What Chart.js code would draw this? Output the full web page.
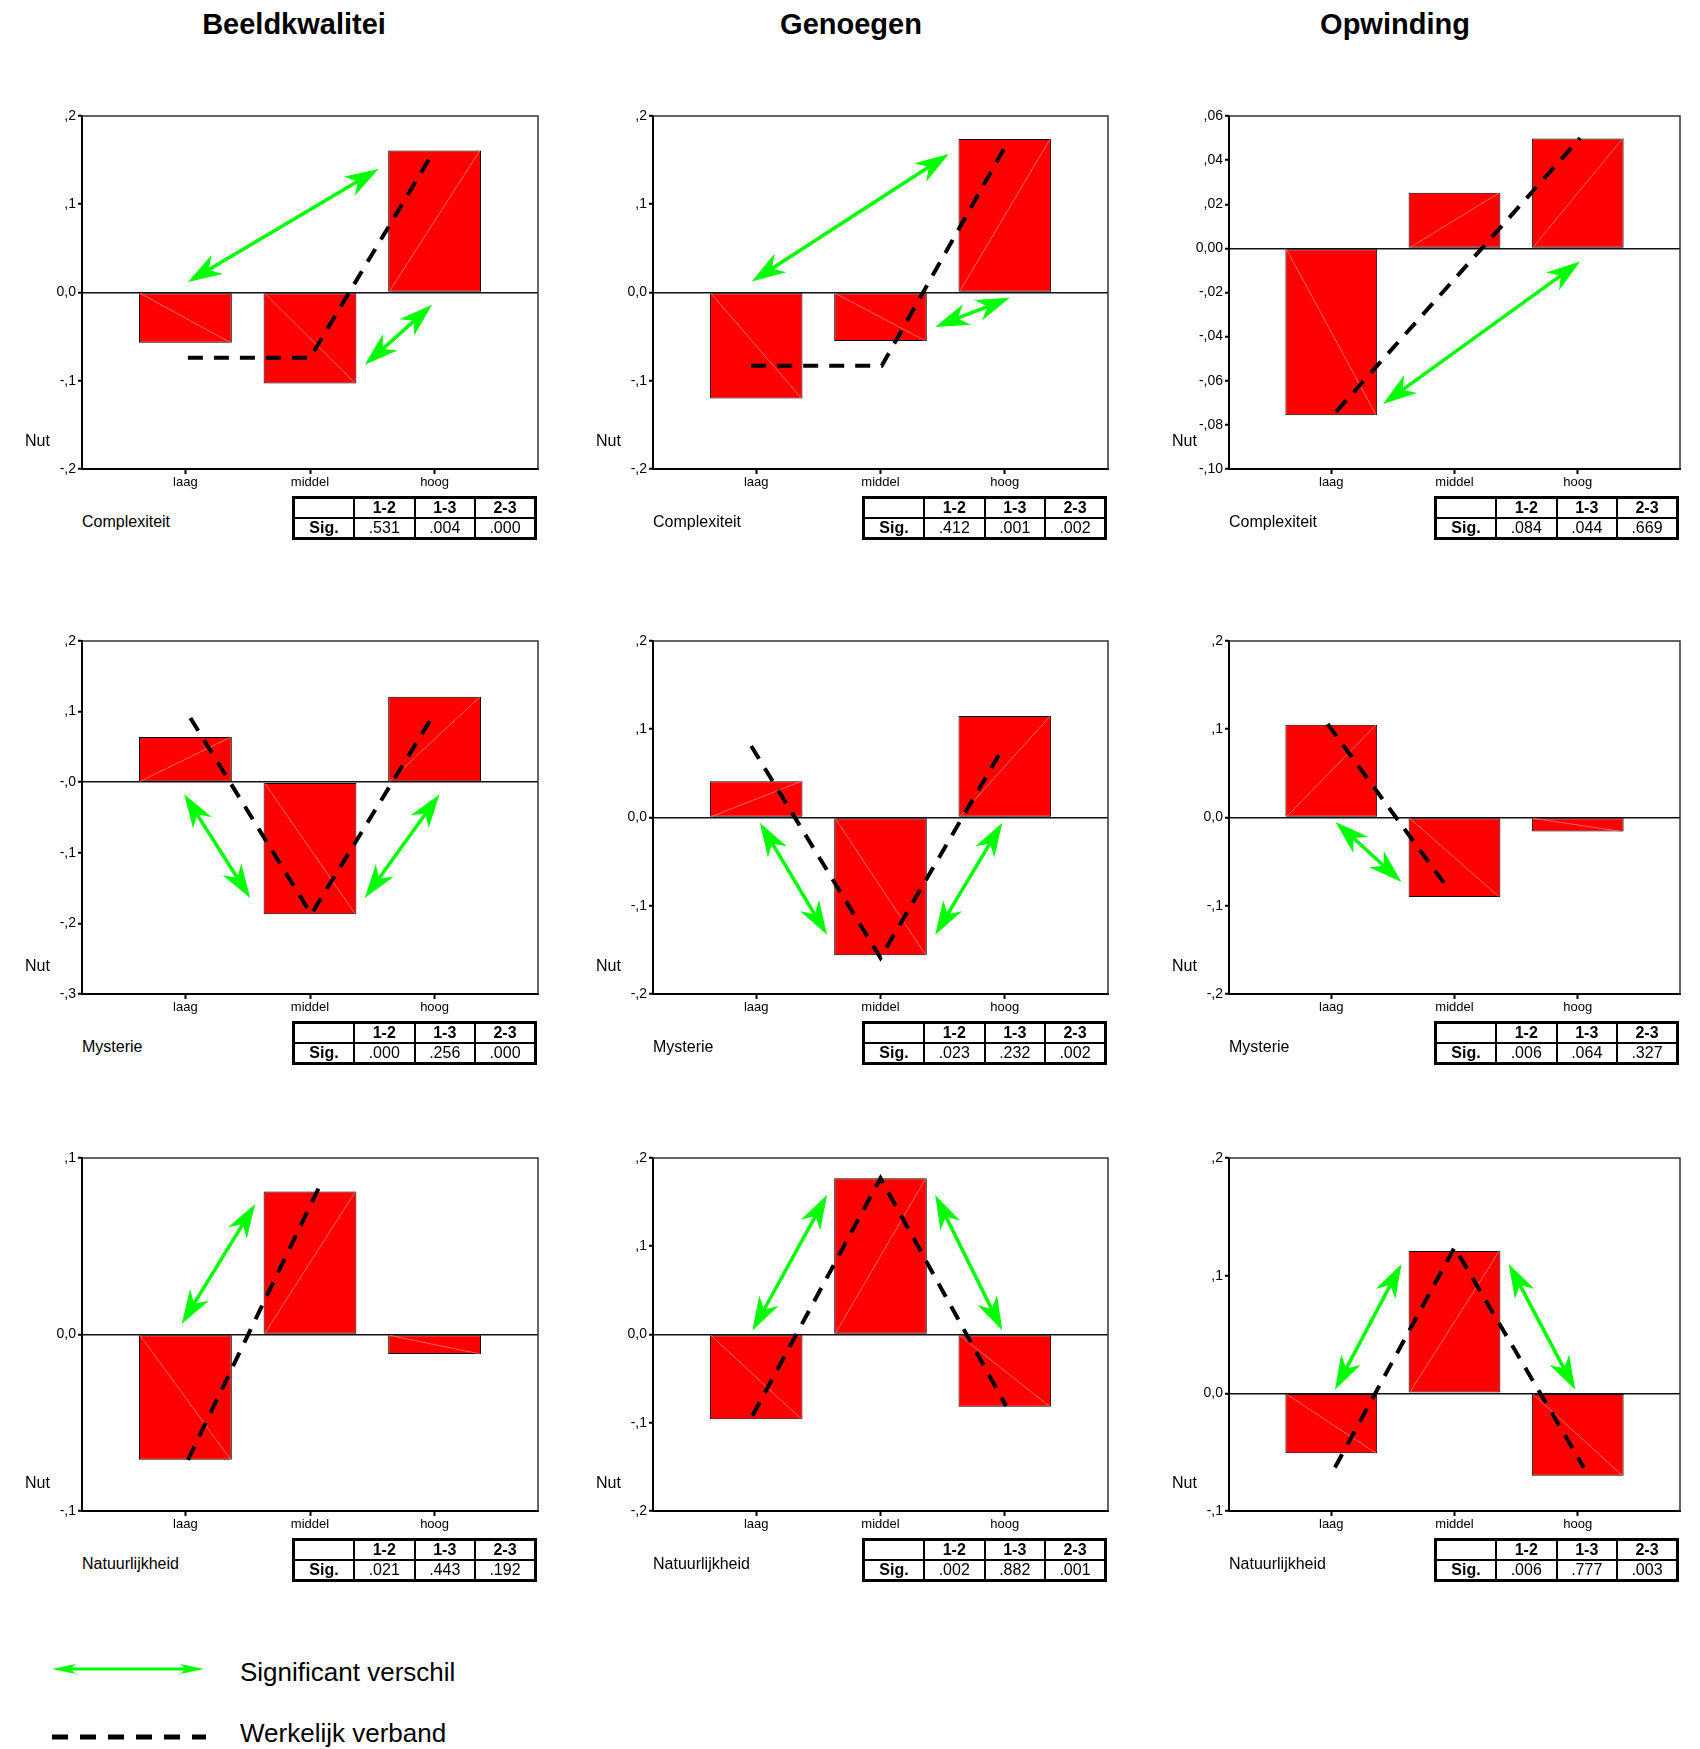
<!DOCTYPE html>
<html>
<head>
<meta charset="utf-8">
<script src="https://cdn.jsdelivr.net/npm/chart.js@4.4.0/dist/chart.umd.min.js"></script>
<style>
    body { margin: 0; width: 1700px; height: 1749px; background: #fff; position: relative; overflow: hidden;
           font-family: "Liberation Sans", Arial, sans-serif; color: #000; }
    .title { position: absolute; top: 8px; font-size: 29px; font-weight: bold; transform: translateX(-50%); white-space: nowrap; }
    canvas { position: absolute; }
    .factor { position: absolute; font-size: 16px; transform: translateY(-50%); white-space: nowrap; }
    table.sig { position: absolute; border-collapse: collapse; border: 3px solid #000; table-layout: fixed;
                width: 245px; font-size: 16px; }
    table.sig td { border: 2px solid #000; height: 18px; padding: 0; text-align: center; line-height: 18px; }
    table.sig td.b { font-weight: bold; }
    .legend-text { position: absolute; font-size: 26px; transform: translateY(-50%); white-space: nowrap; }
</style>
</head>
<body>
<script>
    "use strict";

    // ---- data ----
    const categories = ['laag', 'middel', 'hoog'];
    const columnTitles = ['Beeldkwalitei', 'Genoegen', 'Opwinding'];
    const rowFactors = ['Complexiteit', 'Mysterie', 'Natuurlijkheid'];
    const sigPairs = ['1-2', '1-3', '2-3'];

    // bar values (Nut) per panel
    const bkComplex = [-0.057, -0.103, 0.161];
    const geComplex = [-0.120, -0.055, 0.174];
    const opComplex = [-0.0756, 0.0252, 0.0498];
    const bkMyst = [0.064, -0.187, 0.121];
    const geMyst = [0.041, -0.156, 0.115];
    const opMyst = [0.105, -0.090, -0.016];
    const bkNat = [-0.071, 0.081, -0.011];
    const geNat = [-0.096, 0.177, -0.082];
    const opNat = [-0.051, 0.121, -0.070];

    // "werkelijk verband" dashed lines (x in category units)
    const bkComplexLineX = [0.02, 1.0, 1.96], bkComplexLineY = [-0.074, -0.074, 0.152];
    const geComplexLineX = [-0.04, 1.01, 2.03], geComplexLineY = [-0.083, -0.083, 0.172];
    const opComplexLineX = [0.04, 2.02], opComplexLineY = [-0.074, 0.050];
    const bkMystLineX = [0.04, 1.01, 1.98], bkMystLineY = [0.091, -0.187, 0.092];
    const geMystLineX = [-0.04, 1.0, 1.99], geMystLineY = [0.081, -0.159, 0.080];
    const opMystLineX = [-0.03, 0.94], opMystLineY = [0.106, -0.079];
    const bkNatLineX = [0.02, 1.07], bkNatLineY = [-0.071, 0.083];
    const geNatLineX = [-0.03, 1.0, 2.01], geNatLineY = [-0.092, 0.177, -0.081];
    const opNatLineX = [0.03, 1.0, 2.05], opNatLineY = [-0.063, 0.124, -0.063];

    // "significant verschil" arrows: [x1, y1, x2, y2]
    const bkComplexArrows = [[0.02, 0.012, 1.55, 0.140], [1.44, -0.082, 1.98, -0.014]];
    const geComplexArrows = [[-0.035, 0.0125, 1.55, 0.157], [1.44, -0.039, 2.04, -0.006]];
    const opComplexArrows = [[0.42, -0.0705, 2.02, -0.006]];
    const bkMystArrows = [[-0.01, -0.017, 0.52, -0.164], [1.44, -0.164, 2.04, -0.017]];
    const geMystArrows = [[0.03, -0.006, 0.57, -0.133], [1.44, -0.133, 1.98, -0.006]];
    const opMystArrows = [[0.035, -0.005, 0.57, -0.073]];
    const bkNatArrows = [[-0.03, 0.006, 0.56, 0.074]];
    const geNatArrows = [[-0.03, 0.0045, 0.57, 0.158], [1.44, 0.158, 1.98, 0.0045]];
    const opNatArrows = [[0.03, 0.003, 0.57, 0.110], [1.44, 0.110, 1.98, 0.003]];

    // Sig. values
    const bkComplexSig = ['.531', '.004', '.000'];
    const geComplexSig = ['.412', '.001', '.002'];
    const opComplexSig = ['.084', '.044', '.669'];
    const bkMystSig = ['.000', '.256', '.000'];
    const geMystSig = ['.023', '.232', '.002'];
    const opMystSig = ['.006', '.064', '.327'];
    const bkNatSig = ['.021', '.443', '.192'];
    const geNatSig = ['.002', '.882', '.001'];
    const opNatSig = ['.006', '.777', '.003'];

    // y tick values and labels
    const ticks2 = [-0.2, -0.1, 0, 0.1, 0.2];
    const labels2 = ['-,2', '-,1', '0,0', ',1', ',2'];
    const ticksOpComplex = [-0.10, -0.08, -0.06, -0.04, -0.02, 0, 0.02, 0.04, 0.06];
    const labelsOpComplex = ['-,10', '-,08', '-,06', '-,04', '-,02', '0,00', ',02', ',04', ',06'];
    const ticksBkMyst = [-0.3, -0.2, -0.1, 0, 0.1, 0.2];
    const labelsBkMyst = ['-,3', '-,2', '-,1', '-,0', ',1', ',2'];
    const ticksBkNat = [-0.1, 0, 0.1];
    const labelsBkNat = ['-,1', '0,0', ',1'];
    const ticksOpNat = [-0.1, 0, 0.1, 0.2];
    const labelsOpNat = ['-,1', '0,0', ',1', ',2'];

    // ---- layout ----
    const colLeft = [82, 653, 1229];
    const colWidth = [456, 455, 451];
    const rowTop = [116, 641, 1158];
    const plotHeight = 353;
    const titleCenter = [294, 851, 1395];
    const fontFamily = '"Liberation Sans", Arial, sans-serif';

    Chart.defaults.font.family = fontFamily;
    Chart.defaults.color = '#000';

    const panels = [
        [
            {values: bkComplex, lx: bkComplexLineX, ly: bkComplexLineY, arrows: bkComplexArrows, sig: bkComplexSig, ticks: ticks2, labels: labels2},
            {values: geComplex, lx: geComplexLineX, ly: geComplexLineY, arrows: geComplexArrows, sig: geComplexSig, ticks: ticks2, labels: labels2},
            {values: opComplex, lx: opComplexLineX, ly: opComplexLineY, arrows: opComplexArrows, sig: opComplexSig, ticks: ticksOpComplex, labels: labelsOpComplex}
        ],
        [
            {values: bkMyst, lx: bkMystLineX, ly: bkMystLineY, arrows: bkMystArrows, sig: bkMystSig, ticks: ticksBkMyst, labels: labelsBkMyst},
            {values: geMyst, lx: geMystLineX, ly: geMystLineY, arrows: geMystArrows, sig: geMystSig, ticks: ticks2, labels: labels2},
            {values: opMyst, lx: opMystLineX, ly: opMystLineY, arrows: opMystArrows, sig: opMystSig, ticks: ticks2, labels: labels2}
        ],
        [
            {values: bkNat, lx: bkNatLineX, ly: bkNatLineY, arrows: bkNatArrows, sig: bkNatSig, ticks: ticksBkNat, labels: labelsBkNat},
            {values: geNat, lx: geNatLineX, ly: geNatLineY, arrows: geNatArrows, sig: geNatSig, ticks: ticks2, labels: labels2},
            {values: opNat, lx: opNatLineX, ly: opNatLineY, arrows: opNatArrows, sig: opNatSig, ticks: ticksOpNat, labels: labelsOpNat}
        ]
    ];

    function drawArrowHead(ctx, tx, ty, fx, fy, L, W, N) {
        let dx = tx - fx, dy = ty - fy;
        let len = Math.hypot(dx, dy);
        let ux = dx / len, uy = dy / len;
        let nx = -uy, ny = ux;
        ctx.beginPath();
        ctx.moveTo(tx, ty);
        ctx.lineTo(tx - L * ux + W * nx, ty - L * uy + W * ny);
        ctx.lineTo(tx - N * ux, ty - N * uy);
        ctx.lineTo(tx - L * ux - W * nx, ty - L * uy - W * ny);
        ctx.closePath();
        ctx.fill();
    }

    function drawDoubleArrow(ctx, x1, y1, x2, y2, L, W, N, lw) {
        let len = Math.hypot(x2 - x1, y2 - y1);
        let ux = (x2 - x1) / len, uy = (y2 - y1) / len;
        ctx.save();
        ctx.strokeStyle = '#00ff00';
        ctx.fillStyle = '#00ff00';
        ctx.lineWidth = lw;
        ctx.beginPath();
        ctx.moveTo(x1 + ux * N, y1 + uy * N);
        ctx.lineTo(x2 - ux * N, y2 - uy * N);
        ctx.stroke();
        drawArrowHead(ctx, x2, y2, x1, y1, L, W, N);
        drawArrowHead(ctx, x1, y1, x2, y2, L, W, N);
        ctx.restore();
    }

    function addText(cls, text, left, top) {
        let el = document.createElement('div');
        el.className = cls;
        el.textContent = text;
        el.style.left = left + 'px';
        el.style.top = top + 'px';
        document.body.appendChild(el);
        return el;
    }

    function addSigTable(sig, right, top) {
        let table = document.createElement('table');
        table.className = 'sig';
        table.style.left = (right - 245) + 'px';
        table.style.top = top + 'px';
        let head = '<tr><td></td>' + sigPairs.map(p => '<td class="b">' + p + '</td>').join('') + '</tr>';
        let body = '<tr><td class="b">Sig.</td>' + sig.map(s => '<td>' + s + '</td>').join('') + '</tr>';
        table.innerHTML = head + body;
        document.body.appendChild(table);
    }

    function makePanel(r, c) {
        let p = panels[r][c];
        let left = colLeft[c], top = rowTop[r], w = colWidth[c];

        let canvas = document.createElement('canvas');
        canvas.width = w + 80;
        canvas.height = plotHeight + 12 + 30;
        canvas.style.left = (left - 70) + 'px';
        canvas.style.top = (top - 12) + 'px';
        document.body.appendChild(canvas);

        const panelPlugin = {
            id: 'panelExtras',
            afterDatasetDraw: function (chart, args) {
                if (args.index !== 0) return;
                // faint diagonal inside each bar
                let ctx = chart.ctx;
                ctx.save();
                ctx.strokeStyle = '#ff7a7a';
                ctx.lineWidth = 0.8;
                args.meta.data.forEach(function (bar) {
                    let half = bar.width / 2 - 1;
                    ctx.beginPath();
                    ctx.moveTo(bar.x - half, bar.base);
                    ctx.lineTo(bar.x + half, bar.y);
                    ctx.stroke();
                });
                ctx.restore();
            },
            afterDatasetsDraw: function (chart) {
                let xs = chart.scales.x, ys = chart.scales.y;
                p.arrows.forEach(function (a) {
                    drawDoubleArrow(chart.ctx,
                        xs.getPixelForValue(a[0]), ys.getPixelForValue(a[1]),
                        xs.getPixelForValue(a[2]), ys.getPixelForValue(a[3]),
                        34, 11, 24, 3.5);
                });
            },
            afterDraw: function (chart) {
                let ctx = chart.ctx, area = chart.chartArea;
                ctx.save();
                ctx.strokeStyle = '#333';
                ctx.lineWidth = 1.5;
                ctx.beginPath();
                ctx.moveTo(area.left, area.top);
                ctx.lineTo(area.right, area.top);
                ctx.lineTo(area.right, area.bottom);
                ctx.stroke();
                ctx.fillStyle = '#000';
                ctx.font = '16px ' + fontFamily;
                ctx.textBaseline = 'middle';
                ctx.fillText('Nut', area.left - 57, area.bottom - 27);
                ctx.restore();
            }
        };

        new Chart(canvas.getContext('2d'), {
            type: 'bar',
            data: {
                datasets: [
                    {
                        type: 'bar',
                        data: p.values.map((v, i) => ({x: i, y: v})),
                        backgroundColor: '#ff0000',
                        borderColor: '#000',
                        borderWidth: 1,
                        borderSkipped: false,
                        barPercentage: 0.745,
                        categoryPercentage: 1,
                        order: 1
                    },
                    {
                        type: 'line',
                        data: p.lx.map((x, i) => ({x: x, y: p.ly[i]})),
                        borderColor: '#000',
                        borderWidth: 4,
                        borderDash: [15, 11],
                        borderCapStyle: 'butt',
                        pointRadius: 0,
                        fill: false,
                        tension: 0,
                        order: 0
                    }
                ]
            },
            options: {
                responsive: false,
                animation: false,
                layout: {padding: {top: 12, right: 10, left: 0, bottom: 0}},
                plugins: {
                    legend: {display: false},
                    tooltip: {enabled: false}
                },
                scales: {
                    x: {
                        type: 'linear',
                        min: -0.83,
                        max: 2.83,
                        offset: false,
                        afterBuildTicks: function (scale) {
                            scale.ticks = categories.map((_, i) => ({value: i}));
                        },
                        afterFit: function (scale) {
                            scale.height = 30;
                        },
                        ticks: {
                            autoSkip: false,
                            maxRotation: 0,
                            padding: 1,
                            font: {size: 13},
                            color: '#000',
                            callback: value => categories[Math.round(value)]
                        },
                        grid: {offset: false, drawOnChartArea: false, drawTicks: true, tickLength: 5, tickColor: '#000', tickWidth: 2},
                        border: {color: '#000', width: 2}
                    },
                    y: {
                        min: p.ticks[0],
                        max: p.ticks[p.ticks.length - 1],
                        afterBuildTicks: function (scale) {
                            scale.ticks = p.ticks.map(v => ({value: v}));
                        },
                        afterFit: function (scale) {
                            scale.width = 70;
                        },
                        ticks: {
                            padding: 2,
                            font: {size: 14},
                            color: '#000',
                            callback: (value, index) => p.labels[index]
                        },
                        grid: {
                            color: ctx => (ctx.tick && Math.abs(ctx.tick.value) < 1e-9) ? '#111' : 'rgba(0,0,0,0)',
                            lineWidth: 1.5,
                            drawTicks: true,
                            tickLength: 4,
                            tickColor: '#000',
                            tickWidth: 2
                        },
                        border: {color: '#000', width: 2}
                    }
                }
            },
            plugins: [panelPlugin]
        });

        addText('factor', rowFactors[r], left, top + plotHeight + 53);
        addSigTable(p.sig, left + w - 1, top + plotHeight + 27);
    }

    columnTitles.forEach((t, c) => addText('title', t, titleCenter[c], 8));

    for (let r = 0; r < 3; r++) {
        for (let c = 0; c < 3; c++) {
            makePanel(r, c);
        }
    }

    // legend
    let lg = document.createElement('canvas');
    lg.width = 230;
    lg.height = 110;
    lg.style.left = '0px';
    lg.style.top = '1640px';
    document.body.appendChild(lg);
    let lctx = lg.getContext('2d');
    drawDoubleArrow(lctx, 52, 29, 204, 29, 24, 5, 18, 3);
    lctx.strokeStyle = '#000';
    lctx.lineWidth = 5;
    lctx.setLineDash([16, 12]);
    lctx.beginPath();
    lctx.moveTo(52, 97);
    lctx.lineTo(206, 97);
    lctx.stroke();

    addText('legend-text', 'Significant verschil', 240, 1672);
    addText('legend-text', 'Werkelijk verband', 240, 1733);
</script>
</body>
</html>
